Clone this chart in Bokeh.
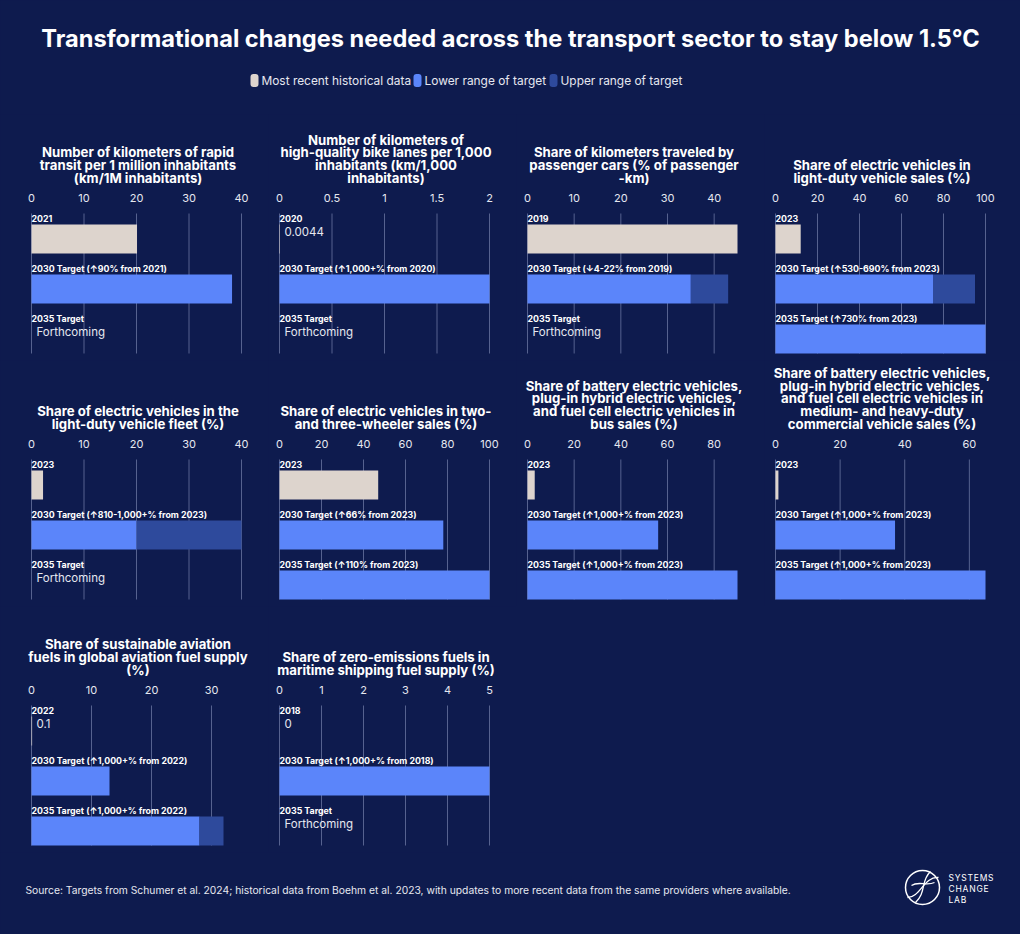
from bokeh.plotting import figure
from bokeh.layouts import column, row
from bokeh.models import Range1d, GlobalInlineStyleSheet
from bokeh.core.properties import value
from bokeh.embed import file_html
from bokeh.resources import INLINE

# ---------------- data ----------------
main_title = "Transformational changes needed across the transport sector to stay below 1.5°C"
legend_labels = ["Most recent historical data", "Lower range of target", "Upper range of target"]
source_note = ("Source: Targets from Schumer et al. 2024; historical data from Boehm et al. 2023, "
               "with updates to more recent data from the same providers where available.")

panel_titles = [
    ["Number of kilometers of rapid", "transit per 1 million inhabitants", "(km/1M inhabitants)"],
    ["Number of kilometers of", "high-quality bike lanes per 1,000", "inhabitants (km/1,000", "inhabitants)"],
    ["Share of kilometers traveled by", "passenger cars (% of passenger", "-km)"],
    ["Share of electric vehicles in", "light-duty vehicle sales (%)"],
    ["Share of electric vehicles in the", "light-duty vehicle fleet (%)"],
    ["Share of electric vehicles in two-", "and three-wheeler sales (%)"],
    ["Share of battery electric vehicles,", "plug-in hybrid electric vehicles,",
     "and fuel cell electric vehicles in", "bus sales (%)"],
    ["Share of battery electric vehicles,", "plug-in hybrid electric vehicles,",
     "and fuel cell electric vehicles in", "medium- and heavy-duty", "commercial vehicle sales (%)"],
    ["Share of sustainable aviation", "fuels in global aviation fuel supply", "(%)"],
    ["Share of zero-emissions fuels in", "maritime shipping fuel supply (%)"],
]
x_max = [40, 2, 45, 100, 40, 100, 90, 65, 35, 5]
tick_values = [
    [0, 10, 20, 30, 40], [0, 0.5, 1, 1.5, 2], [0, 10, 20, 30, 40], [0, 20, 40, 60, 80, 100],
    [0, 10, 20, 30, 40], [0, 20, 40, 60, 80, 100], [0, 20, 40, 60, 80], [0, 20, 40, 60],
    [0, 10, 20, 30], [0, 1, 2, 3, 4, 5],
]
tick_labels = [
    ["0", "10", "20", "30", "40"], ["0", "0.5", "1", "1.5", "2"], ["0", "10", "20", "30", "40"],
    ["0", "20", "40", "60", "80", "100"], ["0", "10", "20", "30", "40"],
    ["0", "20", "40", "60", "80", "100"], ["0", "20", "40", "60", "80"], ["0", "20", "40", "60"],
    ["0", "10", "20", "30"], ["0", "1", "2", "3", "4", "5"],
]
hist_years = ["2021", "2020", "2019", "2023", "2023", "2023", "2023", "2023", "2022", "2018"]
hist_values = [20.1, 0.0044, 45, 12, 2.2, 47, 3.1, 0.9, 0.1, 0]
hist_value_text = [None, "0.0044", None, None, None, None, None, None, "0.1", "0"]

labels_2030 = ["2030 Target (\u219190% from 2021)", "2030 Target (\u21911,000+% from 2020)",
               "2030 Target (\u21934-22% from 2019)", "2030 Target (\u2191530-690% from 2023)",
               "2030 Target (\u2191810-1,000+% from 2023)", "2030 Target (\u219166% from 2023)",
               "2030 Target (\u21911,000+% from 2023)", "2030 Target (\u21911,000+% from 2023)",
               "2030 Target (\u21911,000+% from 2022)", "2030 Target (\u21911,000+% from 2018)"]
low_2030 = [38.2, 2, 35, 75, 20, 78, 56, 37, 13, 5]
high_2030 = [None, None, 43, 95, 40, None, None, None, None, None]

labels_2035 = ["2035 Target", "2035 Target", "2035 Target", "2035 Target (\u2191730% from 2023)",
               "2035 Target", "2035 Target (\u2191110% from 2023)", "2035 Target (\u21911,000+% from 2023)",
               "2035 Target (\u21911,000+% from 2023)", "2035 Target (\u21911,000+% from 2022)", "2035 Target"]
low_2035 = [None, None, None, 100, None, 100, 90, 65, 28, None]
high_2035 = [None, None, None, None, None, None, None, None, 32, None]
forthcoming_text = "Forthcoming"

# ---------------- style ----------------
BG = "#0E1B4E"
HIST_C = "#DDD4CD"
LOW_C = "#5B85FA"
HIGH_C = "#2E4A9C"
GRID_C = "#56628F"
WHITE = "#FFFFFF"
TXT = "#E6E8F0"
FONT = value("Inter")

# cell widths and left padding (to plot start) for the four columns
CELL_WIDTHS = [268, 248, 248, 256]
CELL_LEFT = [31, 11, 11, 11]
CELL_H = 246
PLOT_W = 210
BAR_CENTERS = [124.5, 174.5, 224.5]
BAR_H = 29


def base_fig(w, h, xr, yr):
    p = figure(width=w, height=h, x_range=xr, y_range=yr, output_backend="svg",
               toolbar_location=None, x_axis_type=None, y_axis_type=None,
               min_border=0, min_border_left=0, min_border_right=0,
               min_border_top=0, min_border_bottom=0)
    p.grid.visible = False
    p.outline_line_color = None
    p.background_fill_color = BG
    p.border_fill_color = BG
    return p


def panel(i):
    cw = CELL_WIDTHS[i % 4]
    pl = CELL_LEFT[i % 4]
    xm = x_max[i]
    per_px = xm / PLOT_W
    p = base_fig(cw, CELL_H,
                 Range1d(-pl * per_px, xm + (cw - pl - PLOT_W) * per_px),
                 Range1d(CELL_H, 0))
    top = BAR_CENTERS[0] - BAR_H / 2
    bottom = BAR_CENTERS[2] + BAR_H / 2
    # grid lines at ticks
    tv = tick_values[i]
    p.segment(x0=tv, x1=tv, y0=[top - 11] * len(tv), y1=[bottom] * len(tv),
              line_color=GRID_C, line_width=1)
    # tick labels
    p.text(x=tv, y=[83] * len(tv), text=tick_labels[i], text_font=FONT,
           text_font_size="11px", text_color=TXT, text_align="center", text_baseline="middle")
    # title
    lines = panel_titles[i]
    n = len(lines)
    p.text(x=[xm / 2 + per_px * 1.5] * n, y=[63 - (n - 1 - k) * 12.6 for k in range(n)], text=lines,
           text_font=FONT, text_font_size="13.2px", text_font_style="bold", text_color=WHITE,
           text_align="center", text_baseline="middle")

    cat_labels = [hist_years[i], labels_2030[i], labels_2035[i]]
    p.text(x=[0, 0, 0], y=[c - BAR_H / 2 - 6.5 for c in BAR_CENTERS], text=cat_labels,
           text_font=FONT, text_font_size="8.8px", text_font_style="bold", text_color=WHITE,
           text_align="left", text_baseline="middle")

    # historical
    p.hbar(y=BAR_CENTERS[0], left=0, right=hist_values[i], height=BAR_H,
           fill_color=HIST_C, line_color=None)
    if hist_value_text[i] is not None:
        p.text(x=[0], y=[BAR_CENTERS[0] - BAR_H / 2 + 6.5], text=[hist_value_text[i]],
               x_offset=5, text_font=FONT, text_font_size="11.5px", text_color=TXT,
               text_align="left", text_baseline="middle")
    # targets
    for slot, lo, hi in ((1, low_2030[i], high_2030[i]), (2, low_2035[i], high_2035[i])):
        yc = BAR_CENTERS[slot]
        if lo is None:
            p.text(x=[0], y=[yc - BAR_H / 2 + 7.5], text=[forthcoming_text], x_offset=5,
                   text_font=FONT, text_font_size="11.5px", text_color=TXT,
                   text_align="left", text_baseline="middle")
            continue
        p.hbar(y=yc, left=0, right=lo, height=BAR_H, fill_color=LOW_C, line_color=None)
        if hi is not None:
            p.hbar(y=yc, left=lo, right=hi, height=BAR_H, fill_color=HIGH_C, line_color=None)
    return p


# ---------------- header ----------------
HW, HH = 1020, 114
header = base_fig(HW, HH, Range1d(0, HW), Range1d(HH, 0))
header.text(x=[510], y=[38], text=[main_title], text_font=FONT, text_font_size="23.6px",
            text_font_style="bold", text_color=WHITE, text_align="center", text_baseline="middle")
leg_colors = [HIST_C, LOW_C, HIGH_C]
leg_box_x = [250, 413, 549]
header.rect(x=[bx + 4 for bx in leg_box_x], y=[80] * 3, width=8, height=13,
            fill_color=leg_colors, line_color=None, border_radius=3)
header.text(x=[bx + 11 for bx in leg_box_x], y=[80] * 3, text=legend_labels, text_font=FONT,
            text_font_size="11.9px", text_color=TXT, text_align="left", text_baseline="middle")

# ---------------- footer ----------------
FW, FH = 1020, 82
footer = base_fig(FW, FH, Range1d(0, FW), Range1d(FH, 0))
footer.text(x=[25], y=[37], text=[source_note], text_font=FONT, text_font_size="10.3px",
            text_color=TXT, text_align="left", text_baseline="middle")
footer.circle(x=[922], y=[35], radius=17, fill_color=None, line_color=WHITE, line_width=1.5)
footer.bezier(x0=[907, 911], y0=[45, 33], x1=[938, 934], y1=[25, 30],
              cx0=[920, 918], cy0=[45, 28], cx1=[923, 926], cy1=[24, 34],
              line_color=WHITE, line_width=1.3)
footer.bezier(x0=[915], y0=[50], x1=[930], y1=[19], cx0=[926], cy0=[40], cx1=[920], cy1=[28],
              line_color=WHITE, line_width=1.3)
footer.text(x=[948, 948, 948], y=[25, 36, 47],
            text=["S\u200aY\u200aS\u200aT\u200aE\u200aM\u200aS", "C\u200aH\u200aA\u200aN\u200aG\u200aE",
                  "L\u200aA\u200aB"],
            text_font=FONT, text_font_size="8.5px", text_color=WHITE, text_align="left",
            text_baseline="middle")

panels = [panel(i) for i in range(10)]
layout = column(header,
                row(*panels[0:4]),
                row(*panels[4:8]),
                row(*panels[8:10]),
                footer)
layout.stylesheets = [GlobalInlineStyleSheet(css="body { background-color: #0E1B4E; }")]

open("out.html", "w").write(file_html(layout, INLINE))
